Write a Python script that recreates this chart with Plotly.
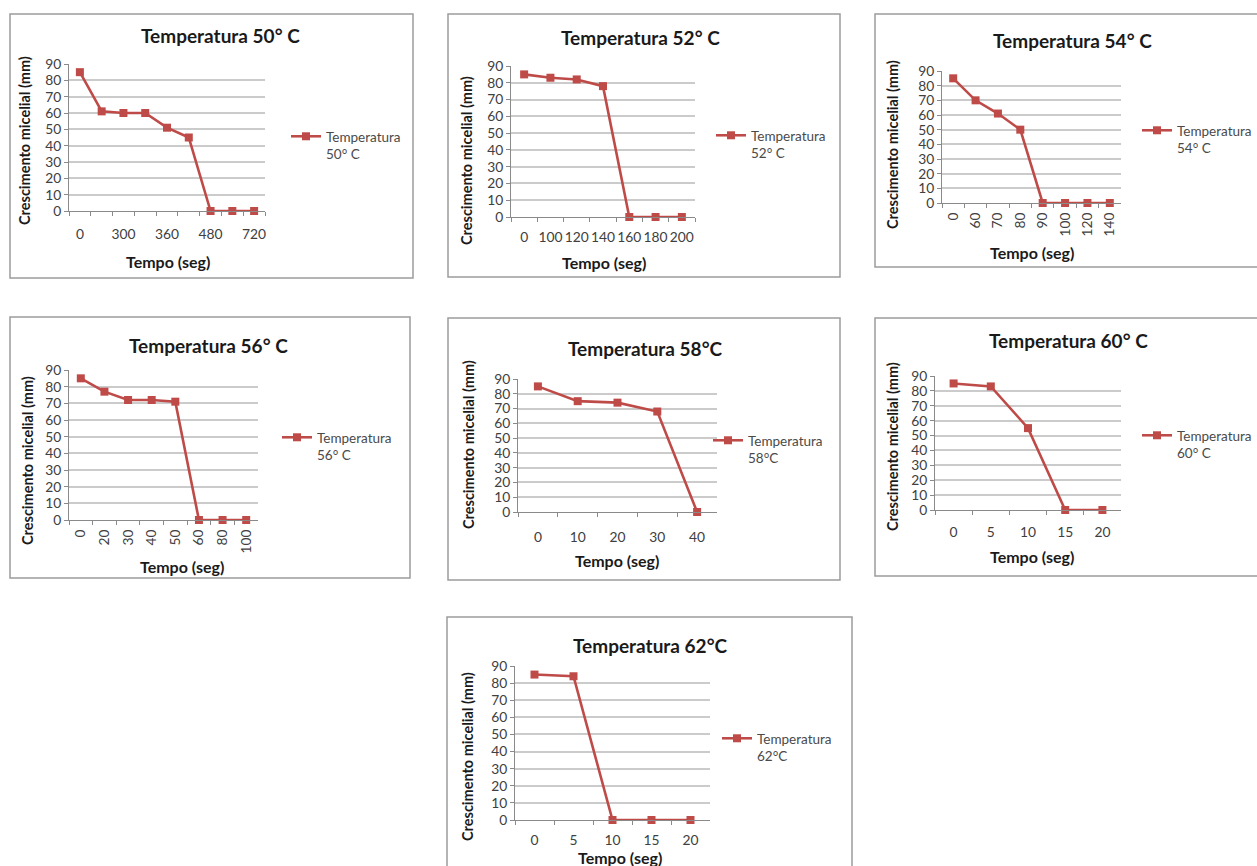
import plotly.graph_objects as go

W, H = 1257, 866
RED = "#BE4B48"
GRID = "#CBCBCB"
AXIS = "#8A8A8A"
FONT = "Lato"

# ---------------- data ----------------
t50 = ["0", "120", "300", "330", "360", "420", "480", "600", "720"]
lab50 = ["0", "", "300", "", "360", "", "480", "", "720"]
c50 = [85, 61, 60, 60, 51, 45, 0, 0, 0]

t52 = ["0", "100", "120", "140", "160", "180", "200"]
c52 = [85, 83, 82, 78, 0, 0, 0]

t54 = ["0", "60", "70", "80", "90", "100", "120", "140"]
c54 = [85, 70, 61, 50, 0, 0, 0, 0]

t56 = ["0", "20", "30", "40", "50", "60", "80", "100"]
c56 = [85, 77, 72, 72, 71, 0, 0, 0]

t58 = ["0", "10", "20", "30", "40"]
c58 = [85, 75, 74, 68, 0]

t60 = ["0", "5", "10", "15", "20"]
c60 = [85, 83, 55, 0, 0]

t62 = ["0", "5", "10", "15", "20"]
c62 = [85, 84, 0, 0, 0]

titles = ["Temperatura 50° C", "Temperatura 52° C", "Temperatura 54° C",
          "Temperatura 56° C", "Temperatura 58°C", "Temperatura 60° C",
          "Temperatura 62°C"]
series_names = ["Temperatura<br>50° C", "Temperatura<br>52° C", "Temperatura<br>54° C",
                "Temperatura<br>56° C", "Temperatura<br>58°C", "Temperatura<br>60° C",
                "Temperatura<br>62°C"]
x_title = "Tempo (seg)"
y_title = "Crescimento micelial (mm)"

times = [t50, t52, t54, t56, t58, t60, t62]
labels = [lab50, t52, t54, t56, t58, t60, t62]
values = [c50, c52, c54, c56, c58, c60, c62]

# ---------------- layout (pixels) ----------------
boxes = [(10, 14, 413, 278), (448, 14, 840, 277), (875, 14, 1262, 267),
         (10, 317, 410, 578), (448, 318, 840, 580), (875, 318, 1262, 576),
         (447, 617, 852, 872)]
plots = [(69, 265, 64, 211), (511, 695, 66, 217), (942, 1121, 71, 203),
         (69, 258, 370, 520), (518, 717, 379, 512), (935, 1121, 376, 510),
         (515, 710, 666, 820)]
title_pos = [(220, 36), (640, 37), (1072, 41), (208, 345), (645, 348), (1068, 340), (650, 645)]
xt_pos = [(168, 261), (604, 262), (1032, 252), (182, 566), (617, 560), (1032, 556), (620, 857)]
yt_pos = [(25, 141), (466, 161), (892, 145), (27, 461), (468, 445), (892, 447), (467, 757)]
leg_pos = [(292, 137), (717, 136), (1143, 131), (283, 438), (714, 441), (1143, 436), (723, 739)]
angles = [0, 0, -90, -90, 0, 0, 0]
standoff = [10, 7, 3, 3, 12, 9, 7]
TICK = 13.8


def px(x):
    return x / W


def py(y):
    return 1 - y / H


fig = go.Figure()
shapes = []
annotations = []
layout = {}

for i in range(7):
    n = str(i + 1) if i > 0 else ""
    xa, ya = "x" + n, "y" + n
    lg = "legend" + n
    fig.add_trace(go.Scatter(
        x=times[i], y=values[i], name=series_names[i],
        mode="lines+markers", xaxis=xa, yaxis=ya, legend=lg,
        line=dict(color=RED, width=2.6),
        marker=dict(symbol="square", size=8, color=RED),
        cliponaxis=False, showlegend=True,
    ))
    x0, x1, y0, y1 = plots[i]
    layout["xaxis" + n] = dict(
        domain=[px(x0), px(x1)], anchor=ya, type="category",
        categoryorder="array", categoryarray=times[i],
        range=[-0.5, len(times[i]) - 0.5], automargin=False,
        tickvals=times[i], ticktext=labels[i], tickson="boundaries",
        showgrid=False, showline=True, linecolor=AXIS, linewidth=1,
        ticks="outside", ticklen=4, tickcolor=AXIS, tickangle=angles[i],
        ticklabelstandoff=standoff[i],
        tickfont=dict(family=FONT, size=TICK, color="#404040"), fixedrange=True,
    )
    layout["yaxis" + n] = dict(
        domain=[py(y1), py(y0)], anchor=xa, range=[0, 90], dtick=10, tick0=0,
        automargin=False,
        showgrid=True, gridcolor=GRID, gridwidth=1.5, zeroline=False,
        showline=True, linecolor=AXIS, linewidth=1, ticks="outside", ticklen=4,
        tickcolor=AXIS, tickfont=dict(family=FONT, size=TICK, color="#404040"),
        fixedrange=True,
    )
    lx, ly = leg_pos[i]
    layout[lg] = dict(
        x=px(lx - 6), y=py(ly - 16), xanchor="left", yanchor="top",
        bgcolor="rgba(0,0,0,0)", borderwidth=0, valign="top",
        font=dict(family=FONT, size=13.5, color="#4a4a4a"),
        itemwidth=30, tracegroupgap=0,
    )
    bx0, by0, bx1, by1 = boxes[i]
    shapes.append(dict(type="rect", xref="paper", yref="paper",
                       x0=px(bx0), x1=px(bx1), y0=py(by1), y1=py(by0),
                       line=dict(color="#9C9C9C", width=1.5), fillcolor="rgba(0,0,0,0)"))
    tx, ty = title_pos[i]
    annotations.append(dict(text="<b>" + titles[i] + "</b>", x=px(tx), y=py(ty),
                            xref="paper", yref="paper", showarrow=False,
                            xanchor="center", yanchor="middle",
                            font=dict(family=FONT, size=19, color="#1a1a1a")))
    xx, xy = xt_pos[i]
    annotations.append(dict(text="<b>" + x_title + "</b>", x=px(xx), y=py(xy),
                            xref="paper", yref="paper", showarrow=False,
                            xanchor="center", yanchor="middle",
                            font=dict(family=FONT, size=16, color="#1a1a1a")))
    yx, yy = yt_pos[i]
    annotations.append(dict(text="<b>" + y_title + "</b>", x=px(yx), y=py(yy),
                            xref="paper", yref="paper", showarrow=False, textangle=-90,
                            xanchor="center", yanchor="middle",
                            font=dict(family=FONT, size=14.5, color="#1a1a1a")))

fig.update_layout(
    width=W, height=H, margin=dict(l=0, r=0, t=0, b=0, pad=0, autoexpand=False),
    paper_bgcolor="white", plot_bgcolor="white",
    shapes=shapes, annotations=annotations,
    font=dict(family=FONT),
    **layout,
)

post = (
    "var d=document.getElementById('{plot_id}');"
    "d.style.position='fixed';d.style.top='0px';d.style.left='0px';"
    "document.body.style.margin='0';document.body.style.overflow='hidden';"
    "document.documentElement.style.overflow='hidden';"
)
fig.write_html("out.html", config={"displayModeBar": False}, post_script=post)
